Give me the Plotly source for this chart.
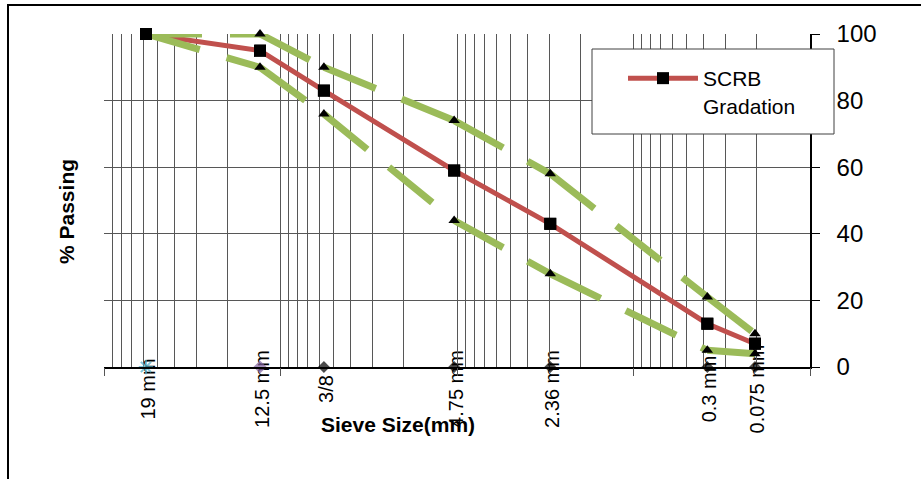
import plotly.graph_objects as go

# ---------------- data ----------------
sieve_labels = ["19 mm", "12.5 mm", "3/8", "4.75 mm", "2.36 mm", "0.3 mm", "0.075 mm"]
sieve_mm = [19, 12.5, 9.5, 4.75, 2.36, 0.3, 0.075]
scrb_passing = [100, 95, 83, 59, 43, 13, 7]
upper_limit = [100, 100, 90, 74, 58, 21, 10]
lower_limit = [100, 90, 76, 44, 28, 5, 4]
sieve_base = [0, 0, 0, 0, 0, 0, 0]
y_ticks = [0, 20, 40, 60, 80, 100]

POWER = 0.45  # 0.45-power gradation chart
xs = [d ** POWER for d in sieve_mm]

# ---------------- styles ----------------
FONT = "Liberation Sans, Arial, sans-serif"
RED = "#C0504D"
GREEN = "#9BBB59"
GRID = "#575757"
base_symbols = ["asterisk-open", "diamond", "diamond", "diamond", "diamond", "diamond", "diamond"]
base_colors = ["#4BACC6", "#8064A2", "black", "black", "black", "black", "black"]
base_sizes = [12, 8, 7, 7, 7, 7, 7]

W, H = 921, 479
ML, MR, MT, MB = 104, 111, 34, 112
PW, PH = W - ML - MR, H - MT - MB


def px_x(p):
    return (p - ML) / PW


def px_y(p):
    return (H - MB - p) / PH


fig = go.Figure()

# invisible carrier so the logarithmic grid axis is drawn
fig.add_trace(go.Scatter(x=sieve_mm, y=sieve_base, xaxis="x2", yaxis="y",
                         mode="none", showlegend=False, hoverinfo="skip"))

# SCRB gradation line (legend entry)
fig.add_trace(go.Scatter(
    x=xs, y=scrb_passing, mode="lines+markers", name="SCRB<br>Gradation",
    line=dict(color=RED, width=5),
    marker=dict(symbol="square", size=12, color="black"),
))

# specification limits, dashed segments (dash restarts at each sieve)
for lim in (upper_limit, lower_limit):
    for i in range(len(xs) - 1):
        fig.add_trace(go.Scatter(
            x=[xs[i], xs[i + 1]], y=[lim[i], lim[i + 1]], mode="lines",
            line=dict(color=GREEN, width=7, dash="56px,28px"),
            showlegend=False, hoverinfo="skip",
        ))

# squares on top
fig.add_trace(go.Scatter(
    x=xs, y=scrb_passing, mode="markers", showlegend=False, cliponaxis=False,
    marker=dict(symbol="square", size=12, color="black"),
))
# triangles of limits
for lim in (upper_limit, lower_limit):
    fig.add_trace(go.Scatter(
        x=xs, y=lim, mode="markers", showlegend=False, cliponaxis=False,
        marker=dict(symbol="triangle-up", size=10, color="black"),
    ))

# sieve markers on the axis
fig.add_trace(go.Scatter(
    x=xs, y=sieve_base, mode="markers", showlegend=False, cliponaxis=False,
    marker=dict(symbol=base_symbols, size=base_sizes, color=base_colors,
                line=dict(color=base_colors, width=2)),
))

# sieve labels (rotated), drawn beneath the traces as shape labels
LABEL_Y = px_y(389)
for xv, lab in zip(xs, sieve_labels):
    fig.add_shape(type="line", xref="x", yref="paper", x0=xv, x1=xv,
                  y0=LABEL_Y, y1=LABEL_Y, layer="below",
                  line=dict(width=0, color="rgba(0,0,0,0)"),
                  label=dict(text=lab, textangle=-90, textposition="middle",
                             xanchor="center", yanchor="middle", padding=0,
                             font=dict(family=FONT, size=20, color="black")))

# axis titles
fig.add_annotation(x=px_x(398), y=px_y(424), xref="paper", yref="paper",
                   text="<b>Sieve Size(mm)</b>", showarrow=False,
                   xanchor="center", yanchor="middle",
                   font=dict(family=FONT, size=21, color="black"))
fig.add_annotation(x=px_x(67), y=px_y(212), xref="paper", yref="paper",
                   text="<b>% Passing</b>", showarrow=False, textangle=-90,
                   xanchor="center", yanchor="middle",
                   font=dict(family=FONT, size=21, color="black"))

# legend box and outer chart border
fig.add_shape(type="rect", xref="paper", yref="paper",
              x0=px_x(592), x1=px_x(834), y0=px_y(134), y1=px_y(49),
              fillcolor="white", line=dict(color="#404040", width=1), layer="above")
fig.add_shape(type="rect", xref="paper", yref="paper",
              x0=px_x(8), x1=px_x(960), y0=px_y(520), y1=px_y(5),
              fillcolor="rgba(0,0,0,0)", line=dict(color="black", width=2), layer="above")

fig.update_layout(
    width=W, height=H,
    margin=dict(l=ML, r=MR, t=MT, b=MB, pad=0),
    paper_bgcolor="white", plot_bgcolor="rgba(0,0,0,0)",
    font=dict(family=FONT, color="black"),
    showlegend=True,
    legend=dict(x=px_x(623), y=px_y(58), xanchor="left", yanchor="top",
                bgcolor="rgba(0,0,0,0)", borderwidth=0, valign="top",
                itemwidth=70, font=dict(family=FONT, size=21, color="black")),
    xaxis=dict(range=[4.0, 0.0], showgrid=False, zeroline=False,
               showticklabels=False, ticks="", showline=True,
               linecolor="black", linewidth=1.5),
    xaxis2=dict(type="log", overlaying="x", anchor="y", side="bottom",
                range=[2, -2], dtick=1, showgrid=True, gridcolor=GRID, gridwidth=1,
                ticks="outside", ticklen=8, tickcolor="#555", showticklabels=False,
                zeroline=False, showline=False,
                minor=dict(dtick="D1", showgrid=True, gridcolor=GRID, gridwidth=1, ticks="")),
    yaxis=dict(range=[0, 100], side="right", tickvals=y_ticks, ticks="outside",
               ticklen=8, tickcolor="black", showline=True, linecolor="black",
               linewidth=1.5, showgrid=True, gridcolor=GRID, gridwidth=1,
               zeroline=False, ticklabelstandoff=12,
               tickfont=dict(family=FONT, size=24, color="black")),
)

fig.write_html("out.html", config={"displayModeBar": False},
               post_script="document.body.style.margin='0';")
